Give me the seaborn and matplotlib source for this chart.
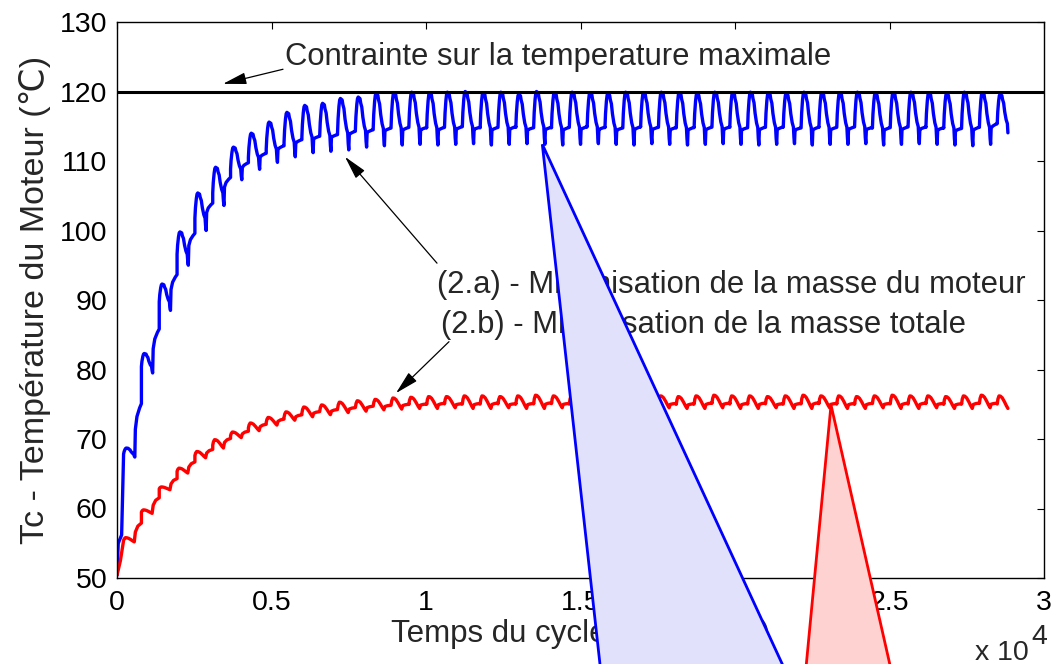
import matplotlib
matplotlib.use("Agg")
import matplotlib.pyplot as plt
from matplotlib.patches import Polygon
import pandas as pd
import seaborn as sns

# ── Data ────────────────────────────────────────────────────
# every driving cycle starts with a sharp heating step
cycle_start = 213      # s, first heating step
cycle_period = 577     # s
t_end = 28835          # s, last sample

# start-up samples before the first cycle (time s, temperature °C)
blue_start_t = [0, 40, 150]
blue_start_v = [50.4, 55.0, 56.2]
red_start_t = [0, 110]
red_start_v = [50.4, 52.5]

# per cycle maximum and minimum temperature (°C)
blue_peaks = [68.7, 82.3, 92.3, 99.8, 105.4, 109.1, 112.0, 114.0, 115.6, 117.0,
              118.0, 118.3, 119.0, 119.2, 119.7, 119.8, 119.9, 119.8, 119.9, 120.0,
              119.8, 119.9, 119.6, 120.0, 119.8, 119.9, 119.8, 119.7, 119.9, 119.8,
              119.9, 119.8, 119.7, 119.9, 119.8, 119.9, 119.8, 119.7, 119.9, 119.8,
              119.8, 119.9, 119.7, 119.8, 119.9, 119.8, 119.7, 119.9, 119.8, 119.6]
blue_dips = [67.4, 79.5, 88.5, 95.0, 100.0, 103.6, 107.3, 108.8, 109.8, 110.6,
             111.2, 111.4, 111.6, 112.0, 112.2, 112.3, 112.4, 112.3, 112.4, 112.5,
             112.3, 112.4, 112.5, 112.4, 112.3, 112.4, 112.5, 112.4, 112.3, 112.5,
             112.4, 112.3, 112.4, 112.5, 112.4, 112.3, 112.4, 112.5, 112.3, 112.4,
             112.4, 112.5, 112.3, 112.4, 112.5, 112.4, 112.3, 112.2, 112.4, 113.3]
red_peaks = [55.8, 59.8, 63.1, 65.8, 68.2, 69.9, 71.0, 72.3, 73.1, 73.9,
             74.6, 74.9, 75.3, 75.5, 75.7, 75.9, 76.0, 76.1, 76.1, 76.2,
             76.2, 76.1, 76.2, 76.3, 76.2, 76.2, 76.1, 76.2, 76.3, 76.2,
             76.2, 76.1, 76.2, 76.3, 76.2, 76.2, 76.1, 76.2, 76.3, 76.2,
             76.2, 76.1, 76.2, 76.3, 76.2, 76.2, 76.1, 76.2, 76.3, 76.2]
red_dips = [55.2, 59.3, 62.7, 65.1, 67.3, 68.7, 70.2, 71.2, 72.0, 72.7,
            73.2, 73.5, 73.8, 74.0, 74.2, 74.3, 74.4, 74.4, 74.5, 74.4,
            74.4, 74.5, 74.4, 74.4, 74.5, 74.4, 74.4, 74.5, 74.4, 74.4,
            74.5, 74.4, 74.4, 74.5, 74.4, 74.4, 74.5, 74.4, 74.4, 74.5,
            74.4, 74.4, 74.5, 74.4, 74.4, 74.5, 74.4, 74.4, 74.5, 74.4]

# shape of one cycle: phase in the cycle, level between dip (0) and peak (1),
# and how far the curve has already climbed towards the next cycle's dip
blue_phase = [0.0, 0.03, 0.08, 0.12, 0.16, 0.26, 0.30, 0.36, 0.42, 0.50, 0.57, 0.60, 0.63, 0.66, 0.75, 0.90, 1.0]
blue_level = [0.33, 0.60, 0.85, 0.97, 1.0, 0.97, 0.88, 0.80, 0.60, 0.42, 0.33, 0.12, 0.0, 0.28, 0.30, 0.32, 0.33]
blue_drift = [0.0, 0.0, 0.0, 0.0, 0.0, 0.0, 0.0, 0.0, 0.0, 0.0, 0.0, 0.0, 0.0, 0.30, 0.45, 0.55, 0.60]
red_phase = [0.0, 0.04, 0.10, 0.18, 0.28, 0.40, 0.52, 0.60, 0.66, 0.80, 1.0]
red_level = [0.35, 0.75, 1.0, 0.98, 0.85, 0.55, 0.20, 0.0, 0.30, 0.36, 0.40]
red_drift = [0.0, 0.0, 0.0, 0.0, 0.0, 0.0, 0.0, 0.0, 0.30, 0.50, 0.60]

limit_temp = 120

# callout triangles (time s, temperature °C): apex then two base corners
blue_call_t = [13764, 15760, 22071]
blue_call_v = [112.4, 32.4, 32.4]
red_call_t = [23107, 22197, 25275]
red_call_v = [74.9, 32.4, 32.4]

x_ticks = [0, 5000, 10000, 15000, 20000, 25000, 30000]
x_tick_labels = ["0", "0.5", "1", "1.5", "2", "2.5", "3"]
y_ticks = [50, 60, 70, 80, 90, 100, 110, 120, 130]


def build_curve(start_t, start_v, peaks, dips, phase, level, drift):
    t = list(start_t)
    v = list(start_v)
    for k, (hi, lo) in enumerate(zip(peaks, dips)):
        lo_next = dips[k + 1] if k + 1 < len(dips) else lo
        for p, l, d in zip(phase, level, drift):
            tt = cycle_start + (k + p) * cycle_period
            if tt > t_end:
                break
            t.append(tt)
            v.append(lo + l * (hi - lo) + d * (lo_next - lo))
    return pd.DataFrame({"t": t, "T": v})


blue = build_curve(blue_start_t, blue_start_v, blue_peaks, blue_dips,
                   blue_phase, blue_level, blue_drift)
red = build_curve(red_start_t, red_start_v, red_peaks, red_dips,
                  red_phase, red_level, red_drift)

# ── Style ───────────────────────────────────────────────────
sns.set_theme(style="white")
plt.rcParams["font.family"] = ["Liberation Sans", "DejaVu Sans"]
FS = 20.5
FS_LAB = 22.5
FS_YLAB = 24.5
FS_NOTE = 22.3

fig = plt.figure(figsize=(10.53, 6.64), dpi=100)
ax = fig.add_axes([117 / 1053, 1 - 578 / 664, 927 / 1053, 556 / 664])

sns.lineplot(data=blue, x="t", y="T", color="#0000FF", lw=2.4,
             estimator=None, sort=False, ax=ax)
sns.lineplot(data=red, x="t", y="T", color="#FF0000", lw=2.4,
             estimator=None, sort=False, ax=ax)
ax.axhline(limit_temp, color="black", lw=2.2)

ax.set_xlim(0, 30000)
ax.set_ylim(50, 130)
ax.set_xticks(x_ticks)
ax.set_xticklabels(x_tick_labels)
ax.set_yticks(y_ticks)
ax.tick_params(direction="in", length=5, width=0.8, labelsize=FS,
               top=True, right=True, colors="black")
ax.tick_params(axis="x", pad=9)
ax.tick_params(axis="y", pad=7)
for sp in ax.spines.values():
    sp.set_color("black")
    sp.set_linewidth(1.0)

ax.set_xlabel("Temps du cycle (secondes)", fontsize=FS_LAB, labelpad=2)
ax.set_ylabel("Tc - Température du Moteur (℃)", fontsize=FS_YLAB, labelpad=6)

# annotations
arrow = dict(arrowstyle="-|>,head_length=1.2,head_width=0.3", color="black",
             lw=0.9, shrinkA=0, shrinkB=0)
ax.annotate("", xy=(3430, 121.1), xytext=(5372, 123.2), arrowprops=arrow)
ax.annotate("", xy=(7379, 110.6), xytext=(10356, 95.3), arrowprops=arrow)
ax.annotate("", xy=(9029, 76.6), xytext=(10744, 84.0), arrowprops=arrow)

ax.text(5437, 125.0, "Contrainte sur la temperature maximale",
        fontsize=FS_NOTE, ha="left", va="center", zorder=4)
ax.text(10356, 92.2, "(2.a) - Minimisation de la masse du moteur",
        fontsize=FS_NOTE, ha="left", va="center", zorder=4, clip_on=False)
ax.text(10485, 86.4, "(2.b) - Minimisation de la masse totale",
        fontsize=FS_NOTE, ha="left", va="center", zorder=4)

# callout triangles drawn over everything, running off the figure
ax.add_patch(Polygon(list(zip(blue_call_t, blue_call_v)), closed=True,
                     facecolor="#E1E1FB", edgecolor="#0000FF", lw=2,
                     clip_on=False, zorder=10))
ax.add_patch(Polygon(list(zip(red_call_t, red_call_v)), closed=True,
                     facecolor="#FFD2D2", edgecolor="#FF0000", lw=2,
                     clip_on=False, zorder=10))

fig.text(975 / 1053, 1 - 660 / 664, "x 10", fontsize=FS, ha="left", va="baseline")
fig.text(1031 / 1053, 1 - 644 / 664, "4", fontsize=FS, ha="left", va="baseline")

fig.savefig("out.png", dpi=100)
